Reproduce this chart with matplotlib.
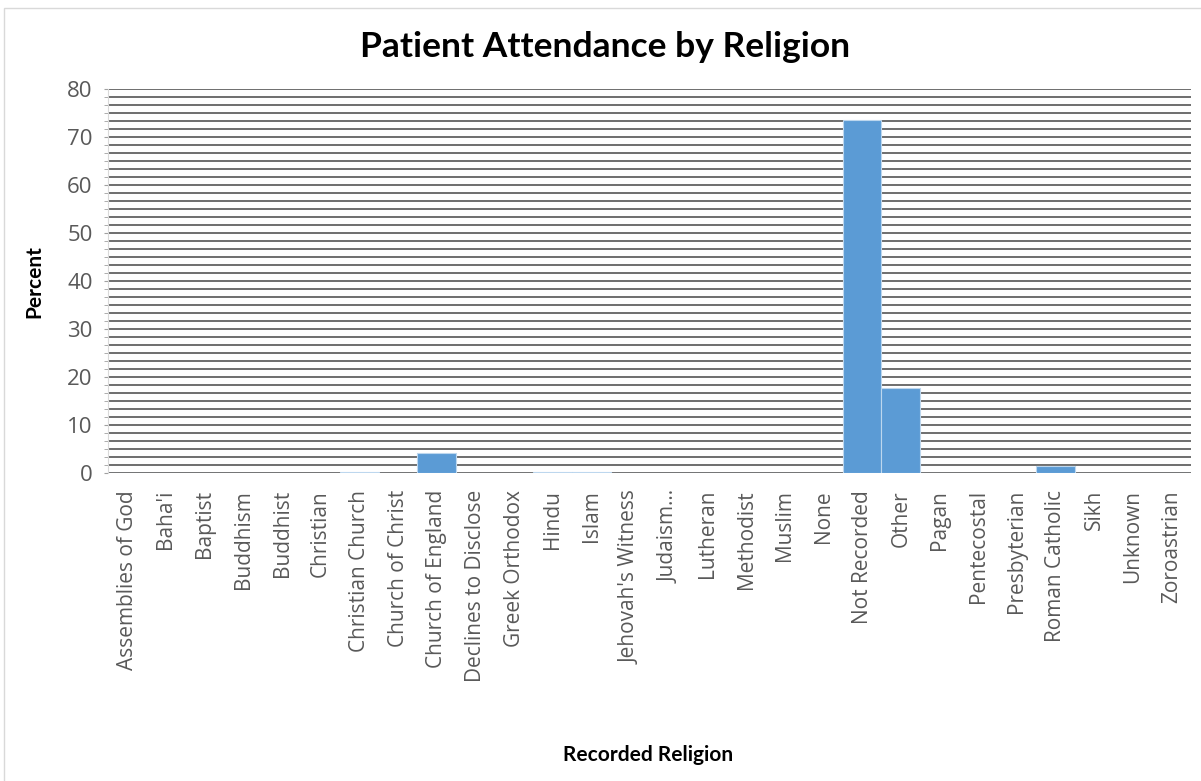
import numpy as np
import matplotlib.pyplot as plt

# Religion categories and percent of patients
religions = ["Assemblies of God", "Baha'i", "Baptist", "Buddhism", "Buddhist",
             "Christian", "Christian Church", "Church of Christ", "Church of England",
             "Declines to Disclose", "Greek Orthodox", "Hindu", "Islam",
             "Jehovah's Witness", "Judaism...", "Lutheran", "Methodist", "Muslim",
             "None", "Not Recorded", "Other", "Pagan", "Pentecostal", "Presbyterian",
             "Roman Catholic", "Sikh", "Unknown", "Zoroastrian"]
percent = [0.05, 0.05, 0.05, 0.05, 0.05,
           0.05, 0.3, 0.05, 4.2,
           0.05, 0.05, 0.3, 0.3,
           0.1, 0.05, 0.05, 0.05, 0.1,
           0.1, 73.6, 17.8, 0.05, 0.05, 0.05,
           1.5, 0.05, 0.1, 0.05]

fig = plt.figure(figsize=(12.01, 7.81), dpi=100)
ax = fig.add_axes([0.0899, 0.394, 0.9017, 0.492])

x = np.arange(len(religions))
ax.bar(x, percent, width=1.0, color='#5B9BD5', edgecolor='#BDD7EE', linewidth=0.8, zorder=3)

ax.set_xlim(-0.5, len(religions) - 0.5)
ax.set_ylim(0, 80)
ax.set_yticks(np.arange(0, 81, 10))
# dense gridlines as in the original
grid_y = np.linspace(0, 80, 49)
ax.set_yticks(grid_y, minor=True)
ax.yaxis.grid(True, which='both', color='#6E6E6E', linewidth=1.4, zorder=0)
ax.tick_params(axis='y', which='both', length=3, color='#A0A0A0', labelsize=16,
               labelcolor='#595959', pad=8)
ax.tick_params(axis='y', which='major', labelfontfamily='Open Sans')

ax.set_xticks(x)
ax.set_xticklabels(religions, rotation=90, fontsize=15, color='#595959', family='Open Sans')
ax.tick_params(axis='x', length=0, pad=12)

for s in ['top', 'right', 'bottom']:
    ax.spines[s].set_visible(False)
ax.spines['left'].set_color('#D9D9D9')

fig.text(0.504, 0.94, 'Patient Attendance by Religion', ha='center', va='center',
         fontsize=25.5, fontweight='bold', family='Lato')
fig.text(0.029, 0.64, 'Percent', rotation=90, ha='center', va='center',
         fontsize=15, fontweight='bold', family='Lato')
fig.text(0.54, 0.033, 'Recorded Religion', ha='center', va='center',
         fontsize=15, fontweight='bold', family='Lato')

# light chart border
fig.add_artist(plt.Rectangle((0.003, -0.01), 1.1, 1.0, transform=fig.transFigure,
                             fill=False, edgecolor='#D9D9D9', linewidth=1))

fig.savefig('out.png', dpi=100)
